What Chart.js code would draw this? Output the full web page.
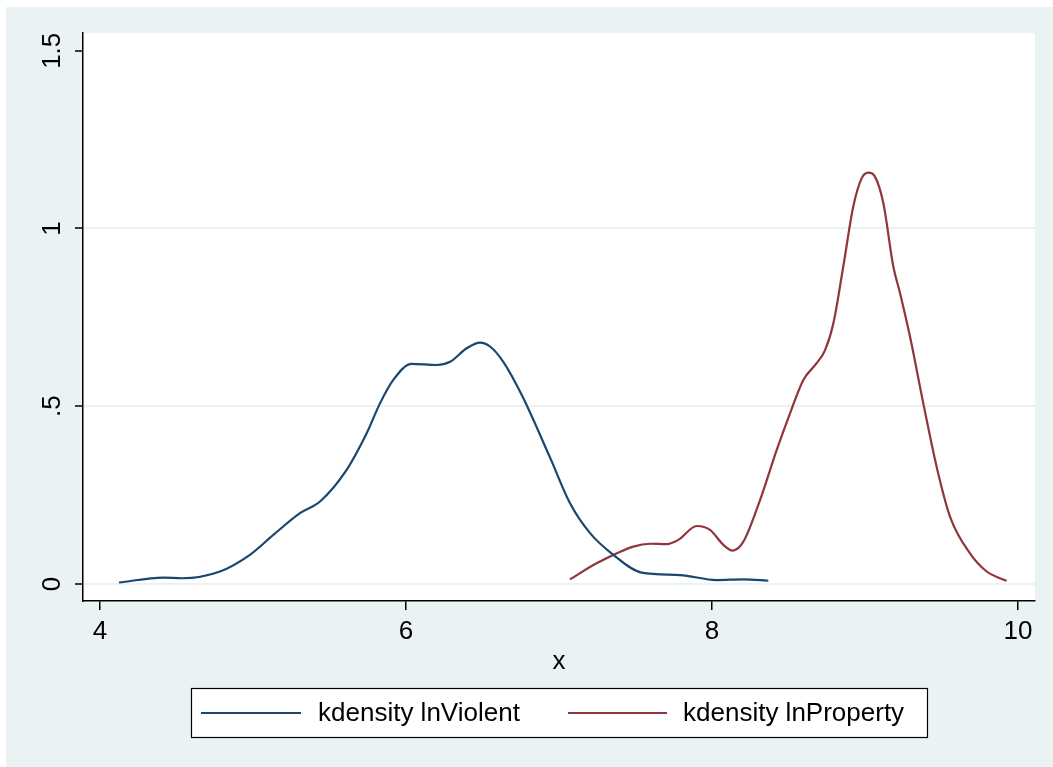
<!DOCTYPE html>
<html>
<head>
<meta charset="utf-8">
<script src="https://cdn.jsdelivr.net/npm/chart.js@4"></script>
<style>
html,body{margin:0;padding:0;background:#ffffff;}
#wrap{width:1053px;height:767px;position:relative;}
</style>
</head>
<body>
<div id="wrap"><canvas id="c" width="1053" height="767"></canvas></div>
<script>
// ---- data ----
const violentX = [4.124, 4.414, 4.534, 4.784, 4.98, 5.133, 5.307, 5.438, 5.612, 5.743, 5.83, 5.917, 6.037, 6.2, 6.288, 6.397, 6.484, 6.549, 6.636, 6.756, 6.941, 7.072, 7.203, 7.355, 7.54, 7.791, 8.03, 8.205, 8.368];
const violentY = [0.004, 0.018, 0.016, 0.035, 0.082, 0.138, 0.199, 0.232, 0.321, 0.424, 0.508, 0.574, 0.619, 0.616, 0.625, 0.663, 0.679, 0.668, 0.625, 0.532, 0.356, 0.227, 0.143, 0.082, 0.032, 0.025, 0.011, 0.013, 0.009];
const propertyX = [7.072, 7.246, 7.486, 7.595, 7.704, 7.78, 7.9, 7.987, 8.074, 8.135, 8.205, 8.314, 8.423, 8.51, 8.597, 8.684, 8.739, 8.793, 8.858, 8.923, 8.978, 9.022, 9.065, 9.12, 9.185, 9.229, 9.294, 9.381, 9.468, 9.556, 9.686, 9.795, 9.882, 9.926];
const propertyY = [0.013, 0.058, 0.105, 0.113, 0.112, 0.124, 0.163, 0.152, 0.11, 0.094, 0.119, 0.236, 0.377, 0.48, 0.574, 0.621, 0.658, 0.733, 0.893, 1.061, 1.141, 1.157, 1.146, 1.071, 0.893, 0.818, 0.696, 0.508, 0.33, 0.189, 0.086, 0.035, 0.016, 0.009];
const seriesLabels = ["kdensity lnViolent", "kdensity lnProperty"];
const seriesColors = ["#1a476f", "#90353b"];
const xTicks = [4, 6, 8, 10];
const yTicks = [0, 0.5, 1, 1.5];
const yTickLabels = ["0", ".5", "1", "1.5"];
const xTitle = "x";

const FONT = "'Liberation Sans', Arial, Helvetica, sans-serif";
const BG = "#eaf2f3";

function pts(xs, ys){ return xs.map((x,i)=>({x:x, y:ys[i]})); }

const bgPlugin = {
  id:'bg',
  beforeDraw(chart){
    const ctx = chart.ctx, a = chart.chartArea;
    ctx.save();
    ctx.fillStyle = '#ffffff';
    ctx.fillRect(0,0,chart.width,chart.height);
    ctx.fillStyle = BG;
    ctx.fillRect(6,7,chart.width-6,chart.height-7);
    ctx.fillStyle = '#ffffff';
    ctx.fillRect(a.left, a.top, a.right-a.left, a.bottom-a.top);
    ctx.restore();
  }
};

// rotated y tick labels, positioned by the y scale
const yLabelPlugin = {
  id:'ylabels',
  afterDraw(chart){
    const ctx = chart.ctx, ys = chart.scales.y;
    ctx.save();
    ctx.fillStyle = '#000000';
    ctx.font = '26px ' + FONT;
    ctx.textAlign = 'center';
    ctx.textBaseline = 'middle';
    yTicks.forEach((v,i)=>{
      const py = ys.getPixelForValue(v);
      ctx.save();
      ctx.translate(53, py);
      ctx.rotate(-Math.PI/2);
      ctx.fillText(yTickLabels[i], 0, 0);
      ctx.restore();
    });
    ctx.restore();
  }
};

const legendPlugin = {
  id:'boxlegend',
  afterDraw(chart){
    const ctx = chart.ctx;
    const bx=191.5, by=688.5, bw=736, bh=49;
    ctx.save();
    ctx.fillStyle='#ffffff';
    ctx.fillRect(bx,by,bw,bh);
    ctx.strokeStyle='#000000';
    ctx.lineWidth=1.2;
    ctx.strokeRect(bx,by,bw,bh);
    const items = [{x0:201,x1:301,tx:318},{x0:568,x1:667,tx:683}];
    chart.data.datasets.forEach((ds,i)=>{
      const it = items[i];
      ctx.strokeStyle = ds.borderColor;
      ctx.lineWidth = 2.2;
      ctx.beginPath();
      ctx.moveTo(it.x0, 713);
      ctx.lineTo(it.x1, 713);
      ctx.stroke();
      ctx.fillStyle='#000000';
      ctx.font = '26px ' + FONT;
      ctx.textBaseline='middle';
      ctx.textAlign='left';
      ctx.fillText(ds.label, it.tx, 714);
    });
    ctx.restore();
  }
};

new Chart(document.getElementById('c'), {
  type:'scatter',
  data:{
    datasets:[
      {label:seriesLabels[0], data:pts(violentX, violentY), borderColor:seriesColors[0], backgroundColor:seriesColors[0], showLine:true, pointRadius:0, borderWidth:2.2, cubicInterpolationMode:'monotone', fill:false},
      {label:seriesLabels[1], data:pts(propertyX, propertyY), borderColor:seriesColors[1], backgroundColor:seriesColors[1], showLine:true, pointRadius:0, borderWidth:2.2, cubicInterpolationMode:'monotone', fill:false}
    ]
  },
  options:{
    responsive:false,
    animation:false,
    devicePixelRatio:1,
    layout:{padding:{left:0, top:33, right:18, bottom:90}},
    plugins:{legend:{display:false}, tooltip:{enabled:false}},
    scales:{
      x:{
        type:'linear', min:3.889, max:10.111,
        afterBuildTicks(s){ s.ticks = xTicks.map(v=>({value:v})); },
        afterFit(s){ s.height = 76; },
        grid:{drawOnChartArea:false, color:'#000000', tickColor:'#000000', tickLength:9, lineWidth:1.5},
        border:{display:true, color:'#000000', width:1.5},
        ticks:{color:'#000000', font:{family:FONT, size:26}, padding:6, maxRotation:0, minRotation:0, callback:(v)=>String(v)},
        title:{display:true, text:xTitle, color:'#000000', font:{family:FONT, size:26}, padding:{top:0, bottom:0}}
      },
      y:{
        type:'linear', min:-0.048, max:1.55,
        afterBuildTicks(s){ s.ticks = yTicks.map(v=>({value:v})); },
        afterFit(s){ s.width = 83; },
        grid:{
          color:(c)=> (c.tick && c.tick.value === 1.5) ? 'rgba(0,0,0,0)' : BG,
          lineWidth:2,
          tickColor:'#000000', tickLength:8, tickWidth:1.5
        },
        border:{display:true, color:'#000000', width:1.5},
        ticks:{display:false}
      }
    }
  },
  plugins:[bgPlugin, yLabelPlugin, legendPlugin]
});
</script>
</body>
</html>
